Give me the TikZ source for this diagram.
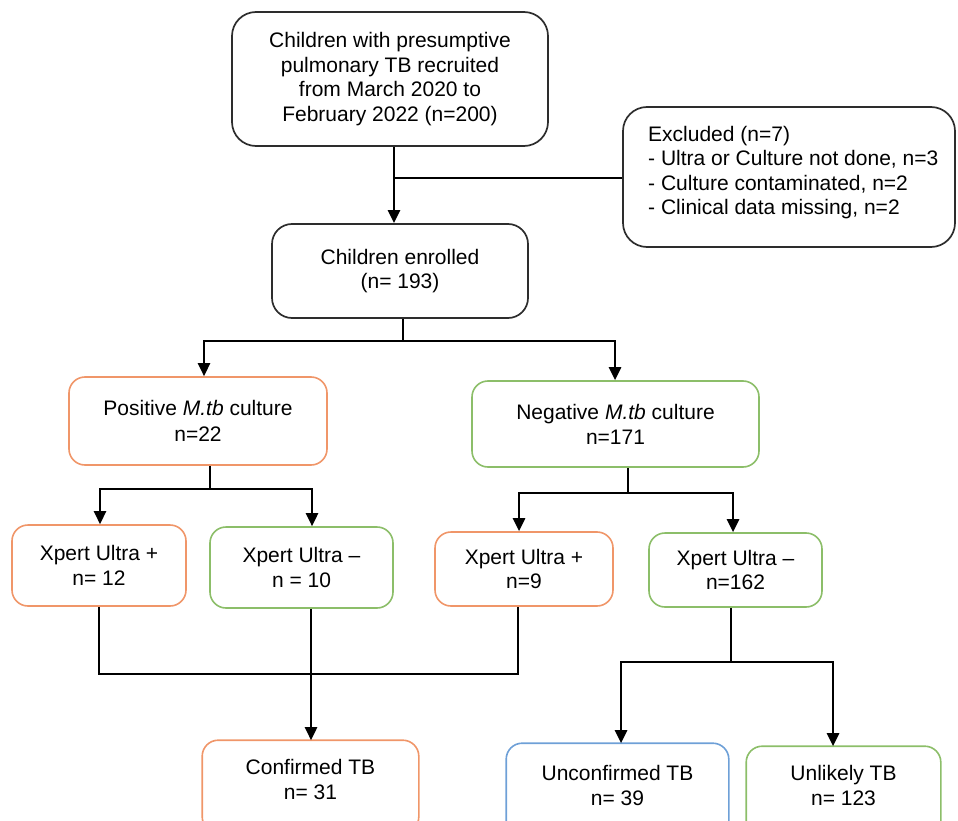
\documentclass[tikz,border=0pt]{standalone}
\usepackage{fontspec}
\setmainfont{Liberation Sans}
\usetikzlibrary{arrows.meta}
\definecolor{boxgray}{RGB}{45,45,45}
\definecolor{orangeb}{RGB}{240,150,105}
\definecolor{greenb}{RGB}{140,190,105}
\definecolor{blueb}{RGB}{110,160,215}
\begin{document}
\begin{tikzpicture}[x=1pt,y=-1pt,
  txt/.style={font=\fontsize{21}{24.5}\selectfont, align=center, inner sep=0pt},
  box/.style={txt, draw=boxgray, line width=1.7pt, rounded corners=24pt},
  cbox/.style={txt, line width=1.6pt, rounded corners=16pt},
  conn/.style={line width=2.6pt, line join=miter},
  arr/.style={conn, -{Triangle[width=12pt,length=13pt]}}]
\useasboundingbox (0,0) rectangle (958,821);
\clip (0,0) rectangle (958,821);

% boxes
\node[box, minimum width=316pt, minimum height=134pt] (top) at (390,79)
  {Children with presumptive\\pulmonary TB recruited\\from March 2020 to\\February 2022 (n=200)};
\node[box, minimum width=332pt, minimum height=140pt] (excl) at (789,177) {};
\node[txt, align=left, anchor=west] (excltxt) at (648,172.5)
  {Excluded (n=7)\\- Ultra or Culture not done, n=3\\- Culture contaminated, n=2\\- Clinical data missing, n=2};
\node[box, rounded corners=20pt, minimum width=256pt, minimum height=94pt] (enrolled) at (400,271)
  {Children enrolled\\(n= 193)};

\node[cbox, draw=orangeb, minimum width=258pt, minimum height=88pt, font=\fontsize{21}{26}\selectfont] (positive) at (198,421)
  {Positive \textit{M.tb} culture\\n=22};
\node[cbox, draw=greenb, minimum width=287pt, minimum height=86pt, font=\fontsize{21}{25}\selectfont] (negative) at (615.5,424)
  {Negative \textit{M.tb} culture\\n=171};

\node[cbox, draw=orangeb, minimum width=174pt, minimum height=81pt] (xp12) at (99,565.5) {Xpert Ultra +\\n= 12};
\node[cbox, draw=greenb, minimum width=183pt, minimum height=81pt] (xm10) at (301.5,567.5) {Xpert Ultra –\\n = 10};
\node[cbox, draw=orangeb, minimum width=178pt, minimum height=74pt] (xp9) at (524,569) {Xpert Ultra +\\n=9};
\node[cbox, draw=greenb, minimum width=173pt, minimum height=74pt] (xm162) at (735.5,570) {Xpert Ultra –\\n=162};

\node[cbox, minimum width=215pt, minimum height=77pt] (confirmed) at (310.5,779.5) {Confirmed TB\\n= 31};
\node[cbox, minimum width=221pt, minimum height=83pt] (unconfirmed) at (617.5,785.5) {Unconfirmed TB\\n= 39};
\node[cbox, minimum width=193pt, minimum height=77pt] (unlikely) at (843.5,785.5) {Unlikely TB\\n= 123};
\draw[draw=orangeb, line width=1.6pt, rounded corners=16pt] (confirmed.north west) rectangle ([yshift=-14pt]confirmed.south east);
\draw[draw=blueb, line width=1.6pt, rounded corners=16pt] (unconfirmed.north west) rectangle ([yshift=-14pt]unconfirmed.south east);
\draw[draw=greenb, line width=1.6pt, rounded corners=16pt] (unlikely.north west) rectangle ([yshift=-14pt]unlikely.south east);

% junction points
\coordinate (j1) at (394,178);
\coordinate (j2) at (403,341);
\coordinate (j2l) at (204,341);
\coordinate (j2r) at (615,341);
\coordinate (j3) at (210,489);
\coordinate (j3l) at (100,489);
\coordinate (j3r) at (312,489);
\coordinate (j4) at (628,493);
\coordinate (j4l) at (519,493);
\coordinate (j4r) at (733,493);
\coordinate (j5l) at (99,674);
\coordinate (j5r) at (518,674);
\coordinate (j6) at (311,674);
\coordinate (j7) at (731,662);
\coordinate (j7l) at (621,662);
\coordinate (j7r) at (833,662);

% connectors
\draw[arr] (j1 |- top.south) -- (j1 |- enrolled.north);
\draw[conn] (j1) -- (j1 -| excl.west);

\draw[conn] (j2 |- enrolled.south) -- (j2);
\draw[arr] (j2) -- (j2l) -- (j2l |- positive.north);
\draw[arr] (j2) -- (j2r) -- (j2r |- negative.north);

\draw[conn] (j3 |- positive.south) -- (j3);
\draw[arr] (j3) -- (j3l) -- (j3l |- xp12.north);
\draw[arr] (j3) -- (j3r) -- (j3r |- xm10.north);

\draw[conn] (j4 |- negative.south) -- (j4);
\draw[arr] (j4) -- (j4l) -- (j4l |- xp9.north);
\draw[arr] (j4) -- (j4r) -- (j4r |- xm162.north);

\draw[conn] (j5l |- xp12.south) -- (j5l) -- (j5r) -- (j5r |- xp9.south);
\draw[arr] (j6 |- xm10.south) -- (j6 |- confirmed.north);

\draw[conn] (j7 |- xm162.south) -- (j7);
\draw[arr] (j7) -- (j7l) -- (j7l |- unconfirmed.north);
\draw[arr] (j7) -- (j7r) -- (j7r |- unlikely.north);
\end{tikzpicture}
\end{document}
